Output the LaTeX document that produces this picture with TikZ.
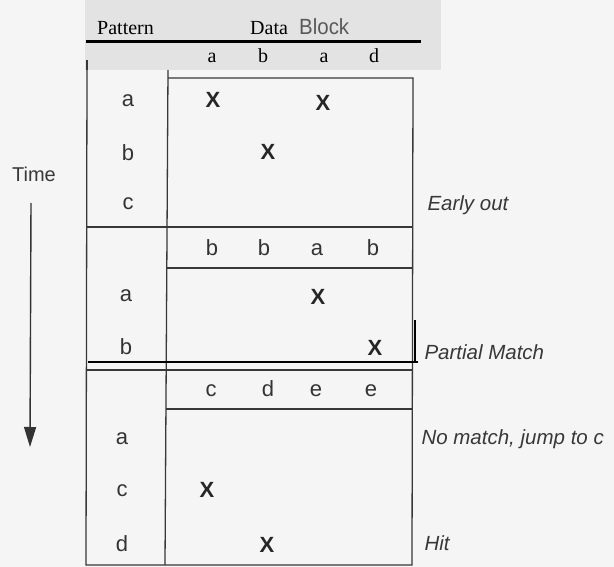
\documentclass[tikz,border=0pt]{standalone}
\usepackage{fontspec}
\setmainfont{Liberation Sans}
\newfontfamily\serifA{Liberation Serif}
\usetikzlibrary{arrows.meta}
\begin{document}
\begin{tikzpicture}[x=1pt,y=-1pt,
 cell/.style={font=\fontsize{22}{22}\selectfont, text=black!80, text height=11.5pt, text depth=0pt},
 xm/.style={font=\bfseries\fontsize{22}{22}\selectfont, text=black!85},
 hdr/.style={font=\serifA\fontsize{20}{20}\selectfont, text=black, text height=9pt, text depth=0pt},
 note/.style={font=\itshape\fontsize{20.5}{20.5}\selectfont, text=black!78, anchor=west},
 grid/.style={draw=black!78, line width=1.3pt},
 over/.style={draw=black, line width=2.4pt}]
\useasboundingbox (0,0) rectangle (614,567);
\fill[black!4] (0,0) rectangle (614,567);
\fill[black!11] (85,0) rectangle (441,70);
% header
\node[font=\serifA\fontsize{20}{20}\selectfont, anchor=base west, inner sep=0pt] (pat) at (97,35) {Pattern};
\node[font=\serifA\fontsize{20}{20}\selectfont, anchor=base west, inner sep=0pt] (data) at (250,35) {Data};
\node[font=\fontsize{22}{22}\selectfont, text=black!65, anchor=base west, inner sep=0pt, xscale=0.93] (blk) at (299,35) {Block};
\draw[over] (86,41.5) -- (421,41.5);
\foreach \l/\x [count=\i] in {a/212,b/263,a/324,d/374}
  \node[hdr] (h0\i) at (\x,58) {\l};
\draw[grid] (87,60) -- (87,70);
% table frame
\draw[grid] (87,70) -- (86,565) -- (412,565) -- (413,78) -- (168,78);
\draw[grid] (168,70) -- (165,565);
\draw[grid] (87,227) -- (413,227);
\draw[grid] (167,268) -- (413,268);
\draw[grid] (86,370) -- (412,370);
\draw[grid] (166,409) -- (412,409);
% section 1
\node[cell] (p1a) at (128,101) {a};
\node[cell] (p1b) at (128,155) {b};
\node[cell] (p1c) at (128,204) {c};
\node[xm] (x11) at (213,100) {X};
\node[xm] (x12) at (323,103) {X};
\node[xm] (x13) at (268,152) {X};
% section 2
\foreach \l/\x [count=\i] in {b/212,b/264,a/317,b/373}
  \node[cell] (h2\i) at (\x,250) {\l};
\node[cell] (p2a) at (126,296) {a};
\node[cell] (p2b) at (126,349) {b};
\node[xm] (x21) at (318,297) {X};
\node[xm] (x22) at (375,348) {X};
\draw[over] (88,362) -- (418,362);
\draw[over] (415,320) -- (415,363);
% section 3
\foreach \l/\x [count=\i] in {c/211,d/268,e/316,e/371}
  \node[cell] (h3\i) at (\x,391) {\l};
\node[cell] (p3a) at (122,439) {a};
\node[cell] (p3c) at (122,491) {c};
\node[cell] (p3d) at (122,546) {d};
\node[xm] (x31) at (207,490) {X};
\node[xm] (x32) at (267,545) {X};
% time
\node[font=\fontsize{20}{20}\selectfont, text=black!78] (time) at (34,174) {Time};
\coordinate (ts) at (31,203);
\coordinate (te) at (30,447);
\draw[black!80, line width=1.4pt, -{Triangle[width=12pt,length=20pt]}] (ts) -- (te);
% notes
\node[note] (n1) at (424,205) {Early out};
\node[note] (n2) at (421,352) {Partial Match};
\node[note] (n3) at (418,439) {No match, jump to c};
\node[note] (n4) at (421,543) {Hit};
\end{tikzpicture}
\end{document}
